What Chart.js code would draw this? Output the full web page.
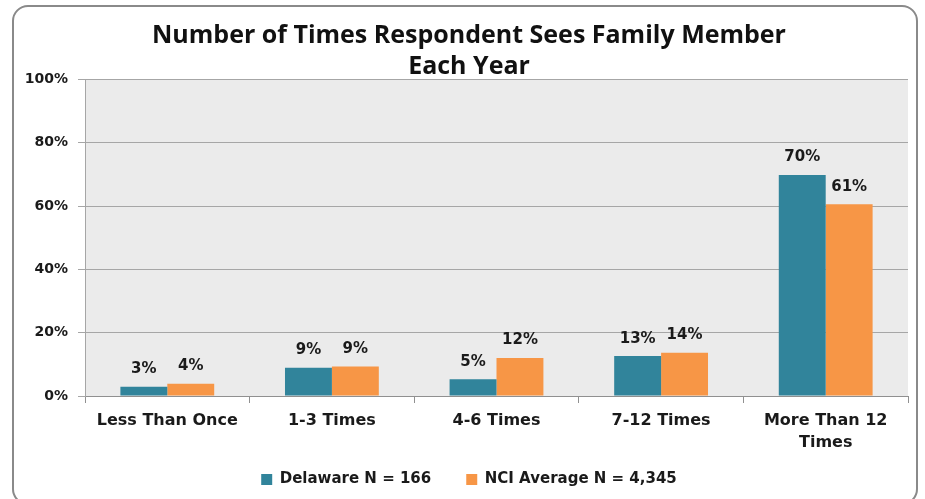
<!DOCTYPE html>
<html>
<head>
<meta charset="utf-8">
<script src="https://cdn.jsdelivr.net/npm/chart.js@4"></script>
<style>
  html, body { margin: 0; padding: 0; background: #ffffff; overflow: hidden; }
  #wrap { position: relative; width: 925px; height: 499px; overflow: hidden; }
  #frame { position: absolute; left: 12px; top: 5px; width: 906px; height: 500px;
           border: 2px solid #8a8a8a; border-radius: 16px; box-sizing: border-box; }
  canvas { position: absolute; left: 0; top: 0; }
</style>
</head>
<body>
<div id="wrap">
  <div id="frame"></div>
  <canvas id="c" width="925" height="499"></canvas>
</div>
<script>
const titleLines = ["Number of Times Respondent Sees Family Member", "Each Year"];
const categories = ["Less Than Once", "1-3 Times", "4-6 Times", "7-12 Times", ["More Than 12", "Times"]];
const delawareLabel = "Delaware N = 166";
const nciLabel = "NCI Average N = 4,345";
const delawareValues = [2.9, 8.9, 5.3, 12.6, 69.8];
const nciValues = [3.9, 9.3, 12.0, 13.7, 60.6];
const yTicks = [0, 20, 40, 60, 80, 100];

const plotBg = {
  id: 'plotBg',
  beforeDraw(chart) {
    const {ctx, chartArea: a} = chart;
    ctx.save();
    ctx.fillStyle = '#ebebeb';
    ctx.fillRect(a.left, a.top, a.right - a.left, a.bottom - a.top);
    ctx.restore();
  }
};

const valueLabels = {
  id: 'valueLabels',
  afterDatasetsDraw(chart) {
    const ctx = chart.ctx;
    ctx.save();
    ctx.font = 'bold 15px "DejaVu Sans"';
    ctx.fillStyle = '#1a1a1a';
    ctx.textAlign = 'center';
    ctx.textBaseline = 'bottom';
    chart.data.datasets.forEach((ds, i) => {
      chart.getDatasetMeta(i).data.forEach((bar, j) => {
        ctx.fillText(Math.round(ds.data[j]) + '%', bar.x, bar.y - 10);
      });
    });
    ctx.restore();
  }
};

new Chart(document.getElementById('c'), {
  type: 'bar',
  data: {
    labels: categories,
    datasets: [
      { label: delawareLabel, data: delawareValues, backgroundColor: '#31849b', borderWidth: 0,
        categoryPercentage: 0.57, barPercentage: 1.0 },
      { label: nciLabel, data: nciValues, backgroundColor: '#f79646', borderWidth: 0,
        categoryPercentage: 0.57, barPercentage: 1.0 }
    ]
  },
  options: {
    responsive: false,
    animation: false,
    devicePixelRatio: 1,
    layout: { padding: { left: 30, right: 17, top: 0, bottom: 2 } },
    plugins: {
      title: {
        display: true,
        text: titleLines,
        color: '#111111',
        font: { family: '"Open Sans"', size: 25, weight: 'bold', lineHeight: 1.25 },
        padding: { top: 20, bottom: -3 }
      },
      legend: {
        position: 'bottom',
        labels: {
          color: '#1a1a1a',
          font: { family: '"DejaVu Sans"', size: 15, weight: 'bold' },
          boxWidth: 11, boxHeight: 11, padding: 35
        }
      },
      tooltip: { enabled: false }
    },
    scales: {
      x: {
        grid: { display: true, drawOnChartArea: false, offset: true, color: '#909090', tickLength: 7 },
        border: { color: '#909090' },
        ticks: { color: '#1a1a1a', font: { family: '"DejaVu Sans"', size: 16, weight: 'bold', lineHeight: 1.35 },
                 maxRotation: 0, padding: 7 },
        afterFit(s) { s.height = 41; s._computeLabelArea = () => undefined; }
      },
      y: {
        min: 0, max: 100,
        afterBuildTicks(s) { s.ticks = yTicks.map(v => ({ value: v })); },
        grid: { color: '#a6a6a6', tickLength: 7 },
        border: { color: '#a6a6a6' },
        ticks: { color: '#1a1a1a', font: { family: '"DejaVu Sans"', size: 14, weight: 'bold' }, padding: 10,
                 callback: v => v + '%' },
        afterFit(s) { s.width = 55; s._computeLabelArea = () => undefined; }
      }
    }
  },
  plugins: [plotBg, valueLabels]
});
</script>
</body>
</html>
